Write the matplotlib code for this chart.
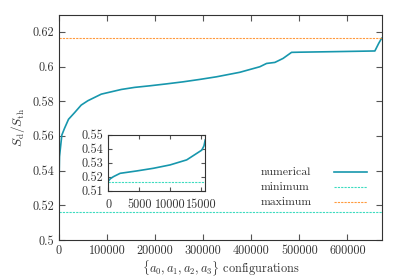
"""S_d/S_th over all {a0..a3} configurations, with zoom inset"""

import matplotlib
matplotlib.use("Agg")
from matplotlib import pyplot as plt
from matplotlib.lines import Line2D

plt.rcParams['font.family'] = ['cmr10', 'DejaVu Serif']
plt.rcParams['mathtext.fontset'] = 'cm'
plt.rcParams['axes.formatter.use_mathtext'] = True

# sorted ratio
config_idx = [0, 1000, 5900, 11500, 19800, 32300, 46200, 60000, 87900, 129600,
              157300, 188500, 223000, 258000, 293000, 327500, 376000, 417700,
              431700, 449000, 466000, 483700, 501000, 570000, 657000, 665000,
              671000]
ratio = [0.5327, 0.548, 0.5605, 0.5644, 0.5696, 0.5734, 0.5778, 0.5803, 0.5841,
         0.5868, 0.5880, 0.5889, 0.5900, 0.5912, 0.5926, 0.5941, 0.5967, 0.5999,
         0.6018, 0.6024, 0.6047, 0.6082, 0.6083, 0.6086, 0.6090, 0.6134, 0.6163]

inset_idx = [0, 300, 810, 1900, 4600, 7300, 10000, 12700, 14350, 15150, 15500, 15700]
inset_ratio = [0.5169, 0.5185, 0.5200, 0.5224, 0.5241, 0.5260, 0.5284, 0.5320,
               0.5367, 0.5390, 0.5420, 0.5462]

ratio_min = 0.5162
ratio_max = 0.6164

num_color = "#1797ad"
min_color = "#3ddcc0"
max_color = "#ff9a3c"
txt_color = "#333333"


def style_axes(ax, fs, ticklen):
    for sp in ax.spines.values():
        sp.set_color(txt_color)
        sp.set_linewidth(0.8)
    ax.tick_params(direction='in', top=True, right=True, length=ticklen,
                   width=0.8, color='#555555', labelcolor=txt_color, labelsize=fs)


fig = plt.figure(figsize=(4, 2.8), dpi=100)
ax = fig.add_axes([0.1475, 0.143, 0.8065, 0.805])

ax.plot(config_idx, ratio, color=num_color, linewidth=1.2)
ax.axhline(ratio_min, color=min_color, linestyle=(0, (2, 1)), linewidth=0.8)
ax.axhline(ratio_max, color=max_color, linestyle=(0, (2, 1)), linewidth=0.8)
ax.set_xlim(0, 671000)
ax.set_ylim(0.5, 0.63)
ax.set_xticks([0, 100000, 200000, 300000, 400000, 500000, 600000])
ax.set_xticklabels(["0", "100000", "200000", "300000", "400000", "500000", "600000"])
ax.set_yticks([0.5, 0.52, 0.54, 0.56, 0.58, 0.6, 0.62])
ax.set_yticklabels(["0.5", "0.52", "0.54", "0.56", "0.58", "0.6", "0.62"])
style_axes(ax, 8.8, 4)
ax.set_xlabel(r"$\{a_0, a_1, a_2, a_3\}$ configurations", fontsize=8.8,
              color=txt_color, labelpad=1)
ax.set_ylabel(r"$S_\mathrm{d}/S_\mathrm{th}$", fontsize=9.5, color=txt_color, labelpad=4)

# key: text left-justified, sample line to the right
key_rows = [("numerical", num_color, '-', 1.2),
            ("minimum", min_color, (0, (2, 1)), 0.8),
            ("maximum", max_color, (0, (2, 1)), 0.8)]
for i, (label, col, ls, lw) in enumerate(key_rows):
    yk = 0.300 - i * 0.0658
    ax.text(0.626, yk, label, transform=ax.transAxes, fontsize=8.5,
            color=txt_color, va='center', ha='left')
    ax.add_line(Line2D([0.852, 0.954], [yk, yk], transform=ax.transAxes,
                       color=col, linestyle=ls, linewidth=lw))

ins = fig.add_axes([0.271, 0.319, 0.242, 0.2])
ins.plot(inset_idx, inset_ratio, color=num_color, linewidth=1.2)
ins.axhline(ratio_min, color=min_color, linestyle=(0, (2, 1)), linewidth=0.8)
ins.set_xlim(0, 15700)
ins.set_ylim(0.51, 0.55)
ins.set_xticks([0, 5000, 10000, 15000])
ins.set_xticklabels(["0", "5000", "10000", "15000"])
ins.set_yticks([0.51, 0.52, 0.53, 0.54, 0.55])
ins.set_yticklabels(["0.51", "0.52", "0.53", "0.54", "0.55"])
style_axes(ins, 8.8, 3)
ins.tick_params(axis='x', pad=6)

fig.savefig("out.png", dpi=100)
plt.close(fig)
